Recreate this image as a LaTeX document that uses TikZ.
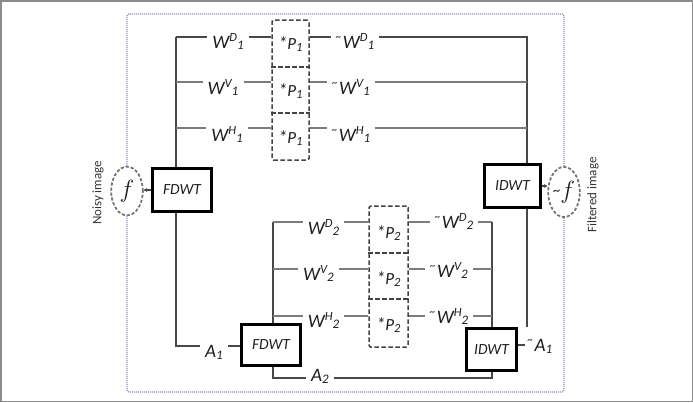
\documentclass[tikz,border=0pt]{standalone}
\usepackage{fontspec}
\setmainfont{Carlito}
\usetikzlibrary{shapes.geometric,arrows.meta,calc}

\definecolor{darkline}{HTML}{484848}
\definecolor{lightline}{HTML}{7C7C7C}
\definecolor{framegray}{HTML}{8C8C8C}
\definecolor{dotblue}{HTML}{8A8ACC}
\definecolor{txt}{HTML}{1E1E1E}
\definecolor{dashgray}{HTML}{444444}
\definecolor{ellgray}{HTML}{747474}

\newcommand{\Wl}[2]{W\raisebox{0.36em}{\fontsize{12.5}{12.5}\selectfont #1}\raisebox{-0.08em}{\fontsize{13}{13}\selectfont #2}}
\newcommand{\Al}[1]{A\raisebox{-0.12em}{\fontsize{13}{13}\selectfont #1}}
\newcommand{\Tl}{\raisebox{0.42em}{\fontsize{11}{11}\selectfont\textasciitilde}\hspace{1.5pt}}
\newcommand{\Pl}[1]{{\fontsize{18}{18}\selectfont*}P\raisebox{-0.12em}{\fontsize{12.5}{12.5}\selectfont #1}}

\begin{document}
\begin{tikzpicture}[x=1pt,y=-1pt,
  every node/.style={text=txt},
  wbox/.style={draw=black,line width=3pt,inner sep=0pt,font=\fontsize{15.5}{15.5}\selectfont\itshape},
  ell/.style={ellipse,draw=ellgray,fill=white,line width=1.6pt,dash pattern=on 3pt off 2pt,inner sep=0pt},
  pcol/.style={draw=dashgray,line width=1.5pt,dash pattern=on 4.5pt off 2.5pt,rounded corners=1.5pt,inner sep=0pt},
  pdiv/.style={draw=dashgray,line width=1.5pt,dash pattern=on 4.5pt off 2.5pt},
  plab/.style={font=\fontsize{17}{17}\selectfont\itshape,anchor=base,inner sep=0pt},
  lab/.style={font=\fontsize{19}{19}\selectfont\itshape,anchor=base,inner xsep=5pt,inner ysep=0pt},
  dl/.style={draw=darkline,line width=1.7pt},
  ll/.style={draw=lightline,line width=1.7pt},
  side/.style={rotate=90,font=\fontsize{13}{13}\selectfont,text=txt!90},
  arr/.style={draw=darkline,line width=1.2pt,-{Stealth[length=3.5pt,width=4pt]}}
]
\useasboundingbox (0,0) rectangle (693,402);
\draw[framegray,line width=1.5pt] (0.75,0.75) rectangle (692.25,401.25);

% coordinates
\coordinate (btop) at (0,14);
\coordinate (bbot) at (0,392);
\coordinate (t1) at (176,37);
\coordinate (t1v) at (176,82);
\coordinate (t1h) at (176,128);
\coordinate (r1) at (527,37);
\coordinate (a1c) at (176,346);
\coordinate (t2) at (273,222);
\coordinate (t2v) at (273,269);
\coordinate (t2h) at (273,316);
\coordinate (r2) at (492,222);
\coordinate (a2c) at (273,378);
\coordinate (ta1c) at (525,345);
\coordinate (r1b) at (527,327);

% image ellipses (placed first to anchor the blue frame)
\node[ell,minimum width=31.5pt,minimum height=48.5pt] (f) at (127,191) {};
\node[ell,minimum width=31.5pt,minimum height=50pt] (ft) at (564,192) {};

% blue dotted frame
\draw[dotblue,line width=1.2pt,dash pattern=on 1pt off 1pt,rounded corners=2pt]
  (f.north) -- (f.north |- btop) -- (ft.north |- btop) -- (ft.north);
\draw[dotblue,line width=1.2pt,dash pattern=on 1pt off 1pt,rounded corners=2pt]
  (f.south) -- (f.south |- bbot) -- (ft.south |- bbot) -- (ft.south);

\node[ell,minimum width=31.5pt,minimum height=48.5pt] (f) at (127,191) {\fontsize{25}{25}\selectfont$f$};
\node[ell,minimum width=31.5pt,minimum height=50pt] (ft) at (564,192) {\raisebox{0.3em}{\fontsize{15}{15}\selectfont\textasciitilde}\fontsize{25}{25}\selectfont$f$};

\node[side] (noisy) at (98,193) {Noisy image};
\node[side] (filt) at (593,195) {Filtered image};

\node[wbox,minimum width=59pt,minimum height=43pt] (fd1) at (182,190) {FDWT};
\node[wbox,minimum width=56pt,minimum height=43pt] (id1) at (512.5,186) {IDWT};
\node[wbox,minimum width=59pt,minimum height=41pt] (fd2) at (271,345) {FDWT};
\node[wbox,minimum width=50pt,minimum height=42pt] (id2) at (491.5,349.5) {IDWT};

% P columns
\node[pcol,minimum width=37pt,minimum height=140pt] (p1) at (290.5,90) {};
\draw[pdiv] (p1.west |- 0,67) -- (p1.east |- 0,67);
\draw[pdiv] (p1.west |- 0,113) -- (p1.east |- 0,113);
\node[plab] (p1a) at (290.5,49) {\Pl{1}};
\node[plab] (p1b) at (290.5,96) {\Pl{1}};
\node[plab] (p1c) at (290.5,143) {\Pl{1}};

\node[pcol,minimum width=39pt,minimum height=141pt] (p2) at (388.5,276.5) {};
\draw[pdiv] (p2.west |- 0,253) -- (p2.east |- 0,253);
\draw[pdiv] (p2.west |- 0,299) -- (p2.east |- 0,299);
\node[plab] (p2a) at (388.5,238) {\Pl{2}};
\node[plab] (p2b) at (388.5,284) {\Pl{2}};
\node[plab] (p2c) at (388.5,330) {\Pl{2}};

% labels
\node[lab] (wd1) at (228,48) {\Wl{D}{1}};
\node[lab] (wv1) at (223,94) {\Wl{V}{1}};
\node[lab] (wh1) at (227,141) {\Wl{H}{1}};
\node[lab] (twd1) at (355,48) {\Tl\Wl{D}{1}};
\node[lab] (twv1) at (351,94) {\Tl\Wl{V}{1}};
\node[lab] (twh1) at (351,141) {\Tl\Wl{H}{1}};

\node[lab] (wd2) at (323.5,234) {\Wl{D}{2}};
\node[lab] (wv2) at (318.5,280) {\Wl{V}{2}};
\node[lab] (wh2) at (323.5,327) {\Wl{H}{2}};
\node[lab] (twd2) at (454,228) {\Tl\Wl{D}{2}};
\node[lab] (twv2) at (449,277) {\Tl\Wl{V}{2}};
\node[lab] (twh2) at (449,323) {\Tl\Wl{H}{2}};

\node[lab] (a1) at (214,357) {\Al{1}};
\node[lab] (a2) at (320,381) {\Al{2}};
\node[lab,inner xsep=3pt] (ta1) at (540,351) {\Tl\Al{1}};

% arrows to images
\draw[arr] (fd1.west) -- (fd1.west -| f.east);
\draw[arr] (id1.east) -- (id1.east -| ft.west);

% first level tree
\draw[dl] (t1) -- (t1 |- fd1.north);
\draw[dl] (t1) -- (t1 -| wd1.west);
\draw[ll] (t1v) -- (t1v -| wv1.west);
\draw[ll] (t1h) -- (t1h -| wh1.west);
\draw[dl] (t1 -| wd1.east) -- (t1 -| p1.west);
\draw[ll] (t1v -| wv1.east) -- (t1v -| p1.west);
\draw[ll] (t1h -| wh1.east) -- (t1h -| p1.west);
\draw[dl] (t1 -| p1.east) -- (t1 -| twd1.west);
\draw[ll] (t1v -| p1.east) -- (t1v -| twv1.west);
\draw[ll] (t1h -| p1.east) -- (t1h -| twh1.west);
\draw[dl] (t1 -| twd1.east) -- (r1) -- (r1 |- id1.north);
\draw[ll] (t1v -| twv1.east) -- (t1v -| r1);
\draw[ll] (t1h -| twh1.east) -- (t1h -| r1);

% approximation path
\draw[dl] (fd1.south -| a1c) -- (a1c) -- (a1c -| a1.west);
\draw[dl] (a1c -| a1.east) -- (a1c -| fd2.west);

% second level tree
\draw[dl] (t2) -- (t2 |- fd2.north);
\draw[ll] (t2) -- (t2 -| wd2.west);
\draw[ll] (t2v) -- (t2v -| wv2.west);
\draw[ll] (t2h) -- (t2h -| wh2.west);
\draw[ll] (t2 -| wd2.east) -- (t2 -| p2.west);
\draw[ll] (t2v -| wv2.east) -- (t2v -| p2.west);
\draw[ll] (t2h -| wh2.east) -- (t2h -| p2.west);
\draw[ll] (t2 -| p2.east) -- (t2 -| twd2.west);
\draw[ll] (t2v -| p2.east) -- (t2v -| twv2.west);
\draw[ll] (t2h -| p2.east) -- (t2h -| twh2.west);
\draw[ll] (t2 -| twd2.east) -- (r2);
\draw[dl] (r2) -- (r2 |- id2.north);
\draw[ll] (t2v -| twv2.east) -- (t2v -| r2);
\draw[ll] (t2h -| twh2.east) -- (t2h -| r2);

% A2 path
\draw[dl] (fd2.south -| a2c) -- (a2c) -- (a2c -| a2.west);
\draw[dl] (a2c -| a2.east) -- (a2c -| r2) -- (id2.south -| r2);

% ~A1 to IDWT
\draw[dl] (ta1c -| id2.east) -- (ta1c -| ta1.west);
\draw[dl] (r1b) -- (r1b |- id1.south);
\end{tikzpicture}
\end{document}
